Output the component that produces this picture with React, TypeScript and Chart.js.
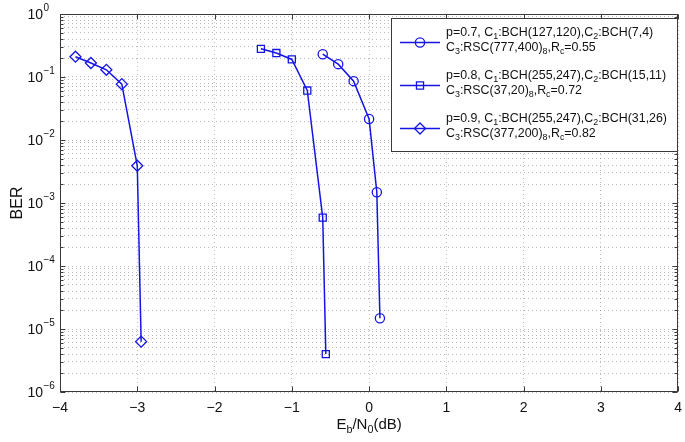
import { useEffect, useRef } from 'react';
import { Chart, registerables } from 'chart.js';

Chart.register(...registerables);

// ---- data ----
const xTicks = [-4, -3, -2, -1, 0, 1, 2, 3, 4];
const xTickLabels = ['\u22124', '\u22123', '\u22122', '\u22121', '0', '1', '2', '3', '4'];
const yDecades = [-6, -5, -4, -3, -2, -1, 0];
const yTickExponents = ['\u22126', '\u22125', '\u22124', '\u22123', '\u22122', '\u22121', '0'];

const snrP07 = [-0.6, -0.4, -0.2, 0.0, 0.1, 0.14];
const berP07 = [0.23, 0.16, 0.086, 0.0215, 1.48e-3, 1.48e-5];
const snrP08 = [-1.4, -1.2, -1.0, -0.8, -0.6, -0.56];
const berP08 = [0.28, 0.24, 0.19, 0.061, 5.85e-4, 4.0e-6];
const snrP09 = [-3.8, -3.6, -3.4, -3.2, -3.0, -2.95];
const berP09 = [0.21, 0.167, 0.13, 0.077, 3.9e-3, 6.3e-6];

type Seg = [string, number]; // 0 normal, -1 subscript, 1 superscript
const legendP07: Seg[][] = [
  [['p=0.7, C', 0], ['1', -1], [':BCH(127,120),C', 0], ['2', -1], [':BCH(7,4)', 0]],
  [['C', 0], ['3', -1], [':RSC(777,400)', 0], ['8', -1], [',R', 0], ['c', -1], ['=0.55', 0]],
];
const legendP08: Seg[][] = [
  [['p=0.8, C', 0], ['1', -1], [':BCH(255,247),C', 0], ['2', -1], [':BCH(15,11)', 0]],
  [['C', 0], ['3', -1], [':RSC(37,20)', 0], ['8', -1], [',R', 0], ['c', -1], ['=0.72', 0]],
];
const legendP09: Seg[][] = [
  [['p=0.9, C', 0], ['1', -1], [':BCH(255,247),C', 0], ['2', -1], [':BCH(31,26)', 0]],
  [['C', 0], ['3', -1], [':RSC(377,200)', 0], ['8', -1], [',R', 0], ['c', -1], ['=0.82', 0]],
];
const xTitle: Seg[] = [['E', 0], ['b', -1], ['/N', 0], ['0', -1], ['(dB)', 0]];
const yTitle = 'BER';

// ---- styles ----
const FONT = "'Liberation Sans', Arial, Helvetica, sans-serif";
const BLUE = 'rgb(20,20,230)';
const GRID = 'rgba(0,0,0,0.27)';
const AXIS = '#3a3a3a';

function drawRich(ctx: CanvasRenderingContext2D, segs: Seg[], x: number, y: number, size: number, align: 'left' | 'center' | 'right') {
  const small = size * 0.72;
  const font = (k: number) => `${k === 0 ? size : small}px ${FONT}`;
  const widths = segs.map(([t, k]) => { ctx.font = font(k); return ctx.measureText(t).width; });
  const total = widths.reduce((a, b) => a + b, 0);
  let cx = align === 'left' ? x : align === 'center' ? x - total / 2 : x - total;
  ctx.textAlign = 'left';
  ctx.textBaseline = 'middle';
  segs.forEach(([t, k], i) => {
    ctx.font = font(k);
    const dy = k === -1 ? size * 0.36 : k === 1 ? -size * 0.5 : 0;
    ctx.fillText(t, cx, y + dy);
    cx += widths[i];
  });
}

function drawMarker(ctx: CanvasRenderingContext2D, style: string, x: number, y: number, r: number) {
  ctx.beginPath();
  if (style === 'circle') {
    ctx.arc(x, y, r, 0, Math.PI * 2);
  } else if (style === 'rect') {
    const s = r * Math.SQRT1_2;
    ctx.rect(x - s, y - s, 2 * s, 2 * s);
  } else {
    ctx.moveTo(x - r, y); ctx.lineTo(x, y - r); ctx.lineTo(x + r, y); ctx.lineTo(x, y + r); ctx.closePath();
  }
  ctx.stroke();
}

const decorPlugin = {
  id: 'decor',
  afterDraw(chart: any) {
    const ctx: CanvasRenderingContext2D = chart.ctx;
    const xs = chart.scales.x;
    const ys = chart.scales.y;
    const L = Math.round(chart.chartArea.left) + 0.5;
    const R = Math.round(chart.chartArea.right) - 0.5;
    const T = Math.round(chart.chartArea.top) + 0.5;
    const B = Math.round(chart.chartArea.bottom) - 0.5;
    ctx.save();
    ctx.strokeStyle = AXIS;
    ctx.lineWidth = 1;
    ctx.setLineDash([]);
    ctx.strokeRect(L, T, R - L, B - T);
    // ticks
    ctx.beginPath();
    xTicks.forEach((v) => {
      const px = Math.round(xs.getPixelForValue(v)) + 0.5;
      ctx.moveTo(px, B); ctx.lineTo(px, B - 5);
      ctx.moveTo(px, T); ctx.lineTo(px, T + 5);
    });
    yDecades.forEach((d) => {
      for (let m = 1; m <= 9; m++) {
        if (d === 0 && m > 1) break;
        const py = Math.round(ys.getPixelForValue(m * Math.pow(10, d))) + 0.5;
        const len = m === 1 ? 5 : 3;
        ctx.moveTo(L, py); ctx.lineTo(L + len, py);
        ctx.moveTo(R, py); ctx.lineTo(R - len, py);
      }
    });
    ctx.stroke();

    // tick labels
    ctx.fillStyle = '#111';
    ctx.textBaseline = 'middle';
    xTicks.forEach((v, i) => {
      ctx.font = `14px ${FONT}`;
      ctx.textAlign = 'center';
      ctx.fillText(xTickLabels[i], xs.getPixelForValue(v), 408);
    });
    yDecades.forEach((d, i) => {
      const py = ys.getPixelForValue(Math.pow(10, d));
      ctx.font = `14px ${FONT}`;
      ctx.textAlign = 'right';
      ctx.fillText('10', 43, py + 1);
      ctx.font = `10px ${FONT}`;
      ctx.textAlign = 'left';
      ctx.fillText(yTickExponents[i], 43.5, py - 6);
    });

    // axis titles
    drawRich(ctx, xTitle, (xs.left + xs.right) / 2, 425, 15, 'center');
    ctx.save();
    ctx.translate(18, (ys.top + ys.bottom) / 2);
    ctx.rotate(-Math.PI / 2);
    ctx.font = `16px ${FONT}`;
    ctx.textAlign = 'center';
    ctx.textBaseline = 'middle';
    ctx.fillText(yTitle, 0, 0);
    ctx.restore();

    // legend
    const bx = 391.5, by = 18.5, bw = 286, bh = 133;
    ctx.fillStyle = '#fff';
    ctx.fillRect(bx, by, bw, bh);
    ctx.strokeStyle = AXIS;
    ctx.strokeRect(bx, by, bw, bh);
    const entries = [legendP07, legendP08, legendP09];
    const rowTops = [32.5, 75.5, 118.5];
    chart.data.datasets.forEach((ds: any, i: number) => {
      const y1 = rowTops[i];
      const my = y1 + 10;
      ctx.strokeStyle = ds.borderColor;
      ctx.lineWidth = ds.borderWidth;
      ctx.beginPath();
      ctx.moveTo(400, my); ctx.lineTo(440, my);
      ctx.stroke();
      ctx.lineWidth = ds.pointBorderWidth;
      drawMarker(ctx, ds.pointStyle, 420, my, ds.pointRadius);
      ctx.fillStyle = '#111';
      drawRich(ctx, entries[i][0], 446, y1, 12.4, 'left');
      drawRich(ctx, entries[i][1], 446, y1 + 15, 12.4, 'left');
    });
    ctx.restore();
  },
};

function makeSet(label: string, xs: number[], ys: number[], pointStyle: string, radius: number) {
  return {
    label,
    data: xs.map((x, i) => ({ x, y: ys[i] })),
    borderColor: BLUE,
    backgroundColor: 'rgba(0,0,0,0)',
    pointBackgroundColor: 'rgba(0,0,0,0)',
    pointBorderColor: BLUE,
    borderWidth: 1.5,
    pointBorderWidth: 1.3,
    pointStyle,
    pointRadius: radius,
    tension: 0,
    fill: false,
  };
}

export default function App() {
  const ref = useRef<HTMLCanvasElement>(null);
  useEffect(() => {
    document.body.style.margin = '0';
    const canvas = ref.current!;
    const yGrid: number[] = [];
    yDecades.forEach((d) => {
      for (let m = 1; m <= 9; m++) {
        if (d === 0 && m > 1) break;
        yGrid.push(m * Math.pow(10, d));
      }
    });
    const chart = new Chart(canvas, {
      type: 'line',
      data: {
        datasets: [
          makeSet('p=0.7', snrP07, berP07, 'circle', 4.6),
          makeSet('p=0.8', snrP08, berP08, 'rect', 5),
          makeSet('p=0.9', snrP09, berP09, 'rectRot', 5.5),
        ] as any,
      },
      options: {
        responsive: false,
        animation: false,
        layout: { padding: { top: 14, right: 5, left: 0, bottom: 0 } },
        plugins: { legend: { display: false }, tooltip: { enabled: false } },
        scales: {
          x: {
            type: 'linear',
            min: -4,
            max: 4,
            afterBuildTicks: (s: any) => { s.ticks = xTicks.map((v) => ({ value: v })); },
            afterFit: (s: any) => { s.height = 50; },
            ticks: { display: false },
            grid: { color: GRID, drawTicks: false, lineWidth: 1 },
            border: { display: false, dash: [1, 3] },
          },
          y: {
            type: 'logarithmic',
            min: 1e-6,
            max: 1,
            afterBuildTicks: (s: any) => { s.ticks = yGrid.map((v) => ({ value: v })); },
            afterFit: (s: any) => { s.width = 60; },
            ticks: { display: false },
            grid: { color: GRID, drawTicks: false, lineWidth: 1 },
            border: { display: false, dash: [1, 3] },
          },
        },
      } as any,
      plugins: [decorPlugin],
    });
    return () => chart.destroy();
  }, []);
  return <canvas ref={ref} width={685} height={442} style={{ display: 'block' }} />;
}
